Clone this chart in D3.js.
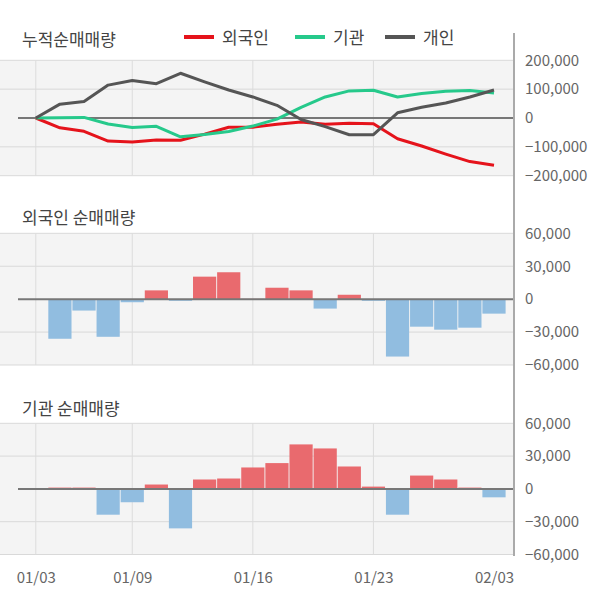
<!DOCTYPE html>
<html><head><meta charset="utf-8">
<script src="https://cdn.jsdelivr.net/npm/d3@7"></script>
<style>
html,body{margin:0;padding:0;background:#fff;}
svg{display:block;font-family:"Noto Sans CJK KR","Noto Sans",sans-serif;}
</style></head>
<body><svg id="c" width="600" height="604"></svg>
<script>
// ---- data ----
const dates = ["01/03","01/04","01/05","01/06","01/09","01/10","01/11","01/12","01/13","01/16",
               "01/17","01/18","01/19","01/20","01/23","01/30","01/31","02/01","02/02","02/03"];
const tickDates = ["01/03","01/09","01/16","01/23","02/03"];
const gridDates = ["01/03","01/09","01/16","01/23"];

// cumulative net buying (shares)
const cumForeign = [0,-34000,-46000,-80000,-83000,-76000,-77000,-56000,-32000,-32000,
                    -22000,-14000,-22000,-18000,-20000,-72000,-97000,-125000,-151000,-164000];
const cumInst    = [0,1000,2000,-21000,-33000,-29000,-65000,-57000,-47000,-28000,
                    -4000,37000,73000,94000,96000,73000,85000,93000,95000,87000];
const cumIndiv   = [0,48000,57000,114000,130000,119000,155000,125000,97000,73000,
                    44000,-5000,-30000,-58000,-58000,18000,37000,52000,73000,97000];

// daily net buying (shares); first day has no bar
const foreignNet = [null,-36100,-10400,-34300,-2800,8000,-1500,20500,24500,300,
                    10400,8000,-8600,4000,-1500,-52300,-25100,-27800,-26000,-13200];
const instNet    = [null,1200,1200,-23600,-12200,4000,-36100,8600,9500,19600,
                    23600,40700,37000,20500,2100,-23600,12200,8600,1200,-7700];

const cumTicks = [200000,100000,0,-100000,-200000];
const netTicks = [60000,30000,0,-30000,-60000];

const seriesNames = ["외국인","기관","개인"];
const seriesColors = ["#e5131b","#26c98b","#555555"];

// ---- layout ----
const svg = d3.select("#c");
const plotL = 0, plotR = 513;
const x = d3.scalePoint().domain(dates).range([35.8, 494]);
const bw = 23.2;
const fmt = d3.format(",");

function panel(top, bottom, ticks, domainMax) {
  const y = d3.scaleLinear().domain([-domainMax, domainMax]).range([bottom, top]);
  const g = svg.append("g");
  g.append("rect").attr("x", plotL).attr("y", top).attr("width", plotR - plotL).attr("height", bottom - top).attr("fill", "#f4f4f4");
  // horizontal grid
  g.selectAll("line.h").data(ticks.filter(t => t !== 0)).enter().append("line")
    .attr("x1", plotL).attr("x2", plotR).attr("y1", d => y(d)).attr("y2", d => y(d))
    .attr("stroke", "#d9d9d9").attr("stroke-width", 1);
  // vertical grid
  g.selectAll("line.v").data(gridDates).enter().append("line")
    .attr("x1", d => x(d)).attr("x2", d => x(d)).attr("y1", top).attr("y2", bottom)
    .attr("stroke", "#dcdcdc").attr("stroke-width", 1);
  // right axis labels
  const ax = d3.axisRight(y).tickValues(ticks).tickSize(0).tickPadding(12).tickFormat(fmt);
  const axg = svg.append("g").attr("transform", `translate(${plotR},0)`).call(ax);
  axg.select(".domain").remove();
  axg.selectAll("text").attr("font-size", 15).attr("fill", "#666").attr("font-family", '"Noto Sans CJK KR","Noto Sans",sans-serif');
  return {y, g};
}

function zeroLine(y) {
  svg.append("line").attr("x1", 18).attr("x2", plotR).attr("y1", y(0)).attr("y2", y(0))
    .attr("stroke", "#777").attr("stroke-width", 2);
}

function title(txt, yc) {
  svg.append("text").attr("x", 22).attr("y", yc).attr("dy", "0.35em").attr("font-size", 17)
    .attr("fill", "#444").text(txt);
}

// Panel 1: cumulative
const p1 = panel(60.3, 175.7, cumTicks, 200000);
zeroLine(p1.y);
const line = d3.line().x((d, i) => x(dates[i])).y(d => p1.y(d));
[cumForeign, cumInst, cumIndiv].forEach((s, k) => {
  svg.append("path").datum(s).attr("d", line).attr("fill", "none")
    .attr("stroke", seriesColors[k]).attr("stroke-width", 3).attr("stroke-linejoin", "round");
});
title("누적순매매량", 40);
// legend
const legX = [184, 295, 385];
seriesNames.forEach((n, k) => {
  svg.append("line").attr("x1", legX[k]).attr("x2", legX[k] + 30).attr("y1", 37).attr("y2", 37)
    .attr("stroke", seriesColors[k]).attr("stroke-width", 4);
  svg.append("text").attr("x", legX[k] + 38).attr("y", 38).attr("dy", "0.35em").attr("font-size", 17)
    .attr("fill", "#444").text(n);
});

// Panel 2 & 3: bars
function bars(data, top, bottom, ttl, ttlY) {
  const p = panel(top, bottom, netTicks, 60000);
  svg.append("g").selectAll("rect").data(data.map((v, i) => ({v, d: dates[i]})).filter(o => o.v !== null))
    .enter().append("rect")
    .attr("x", o => x(o.d) - bw / 2).attr("width", bw)
    .attr("y", o => p.y(Math.max(0, o.v))).attr("height", o => Math.abs(p.y(o.v) - p.y(0)))
    .attr("fill", o => o.v >= 0 ? "#e96a6e" : "#91bde0");
  zeroLine(p.y);
  title(ttl, ttlY);
}
bars(foreignNet, 233.3, 365, "외국인 순매매량", 218);
bars(instNet, 423.3, 554.5, "기관 순매매량", 409);

// right axis line
svg.append("line").attr("x1", plotR + 1).attr("x2", plotR + 1).attr("y1", 33).attr("y2", 556)
  .attr("stroke", "#aaa").attr("stroke-width", 2);

// x axis labels
const xa = d3.axisBottom(x).tickValues(tickDates).tickSize(0).tickPadding(0);
const xg = svg.append("g").attr("transform", "translate(0,572)").call(xa);
xg.select(".domain").remove();
xg.selectAll("text").attr("font-size", 15).attr("fill", "#666").attr("font-family", '"Noto Sans CJK KR","Noto Sans",sans-serif');
</script>
</body></html>
